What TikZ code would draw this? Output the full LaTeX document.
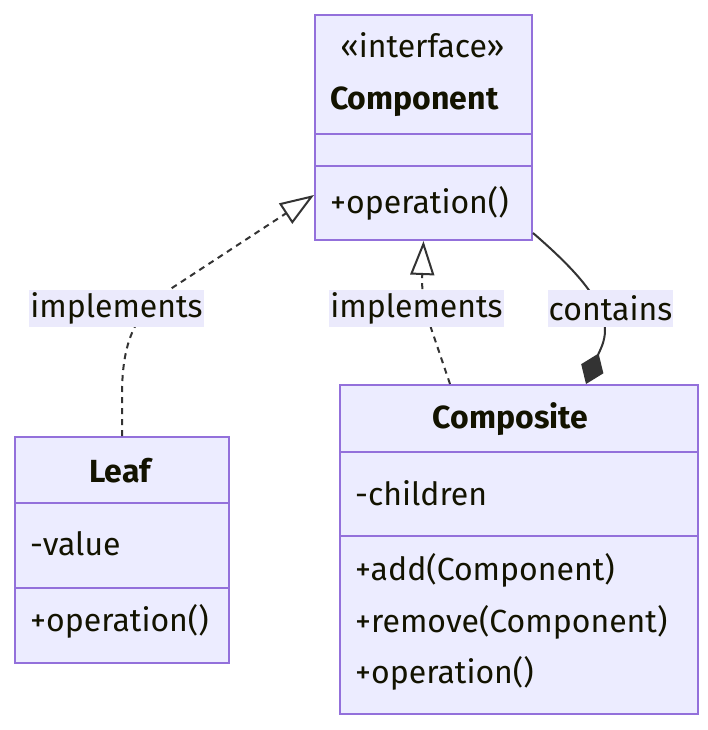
\documentclass[tikz,border=0pt]{standalone}
\usepackage{fontspec}
\setmainfont{Fira Sans}
\usetikzlibrary{positioning,arrows.meta,calc}

\definecolor{classfill}{HTML}{ECECFF}
\definecolor{classline}{HTML}{9370DB}
\definecolor{edgeline}{HTML}{333333}
\definecolor{labelfill}{HTML}{EBEAFC}
\definecolor{textcol}{HTML}{131300}

\tikzset{
  classbox/.style={draw=classline, fill=classfill, line width=2pt, inner sep=0pt, anchor=north west},
  divider/.style={draw=classline, line width=2pt},
  member/.style={anchor=base west, inner sep=0pt, text=textcol, font=\fontsize{32}{38}\selectfont},
  classname/.style={member, anchor=base, font=\fontsize{32}{38}\selectfont\bfseries},
  edgelabel/.style={fill=labelfill, inner xsep=1pt, inner ysep=0pt, minimum height=37pt, text=textcol, font=\fontsize{32}{38}\selectfont},
  realize/.style={draw=edgeline, line width=2pt, dash pattern=on 6pt off 5pt,
    -{Triangle[length=34pt, width=24pt, fill=white]}},
  compose/.style={draw=edgeline, line width=2pt,
    -{Diamond[length=33pt, width=24pt, fill=edgeline]}}
}

\begin{document}
\begin{tikzpicture}[x=1pt, y=-1pt]
\useasboundingbox[fill=white] (0,0) rectangle (708,730);

\node[classbox, minimum width=217pt, minimum height=225pt] (comp) at (314,14) {};
\node[classbox, minimum width=214pt, minimum height=226pt] (leaf) at (14,436) {};
\node[classbox, minimum width=358pt, minimum height=329pt] (composite) at (339,384) {};

\draw[divider] ($(comp.north west)+(0,120)$) -- ($(comp.north east)+(0,120)$);
\draw[divider] ($(comp.north west)+(0,152)$) -- ($(comp.north east)+(0,152)$);
\draw[divider] ($(leaf.north west)+(0,67)$) -- ($(leaf.north east)+(0,67)$);
\draw[divider] ($(leaf.north west)+(0,152)$) -- ($(leaf.north east)+(0,152)$);
\draw[divider] ($(composite.north west)+(0,68)$) -- ($(composite.north east)+(0,68)$);
\draw[divider] ($(composite.north west)+(0,152)$) -- ($(composite.north east)+(0,152)$);

\node[member, anchor=base] (compstereo) at (422.5,58) {«interface»};
\node[classname, anchor=base west] (compname) at (330,110) {Component};
\node[member] (compop) at (330,213) {+operation()};

\node[classname] (leafname) at (120,482) {Leaf};
\node[member] (leafval) at (30,555) {-value};
\node[member] (leafop) at (30,631) {+operation()};

\node[classname] (compositename) at (510.5,428) {Composite};
\node[member] (compositechildren) at (355,505) {-children};
\node[member] (compositeadd) at (355,580) {+add(Component)};
\node[member] (compositeremove) at (355,632) {+remove(Component)};
\node[member] (compositeop) at (355,683) {+operation()};

\draw[realize] (leaf.north) -- ++(0,-41) .. controls +(0,-60) and (139,310) .. (172,288)
  -- ($(comp.north west)+(0,181)$);
\draw[realize] ($(composite.north west)+(111,0)$) -- (431,328) .. controls (423,300) .. (422,282)
  -- (comp.south);
\draw[compose] ($(comp.south east)+(0,-8)$) .. controls (570,265) and (605,300) .. (605,330)
  .. controls (605,342) and (600,350) .. ($(composite.north west)+(247,0)$);

\node[edgelabel] (implleaf) at (116.5,308.5) {implements};
\node[edgelabel] (implcomposite) at (416.5,308.5) {implements};
\node[edgelabel] (contains) at (610.5,308.5) {contains};
\end{tikzpicture}
\end{document}
